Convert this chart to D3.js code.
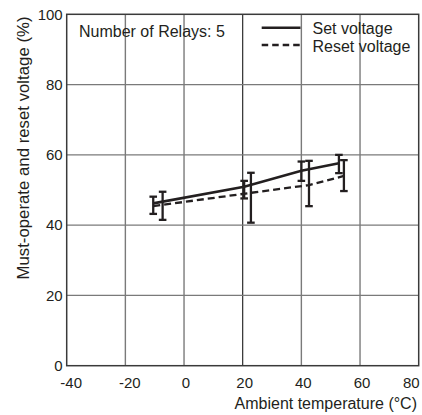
<!DOCTYPE html>
<html>
<head>
<meta charset="utf-8">
<script src="https://cdn.jsdelivr.net/npm/d3@7"></script>
<style>
  html, body { margin: 0; padding: 0; background: #fff; }
  svg { display: block; font-family: "Liberation Sans", Arial, Helvetica, sans-serif; }
</style>
</head>
<body>
<svg id="chart" width="422" height="415"></svg>
<script>
// ---- data ----
const xTicks = [-40, -20, 0, 20, 40, 60, 80];
const yTicks = [0, 20, 40, 60, 80, 100];

// Set voltage (solid line) – line points and error bars
const setTemp = [-10.5, 20.5, 40, 52.8];
const setMean = [46.2, 50.9, 55.5, 57.6];
const setLow  = [43.2, 47.6, 52.6, 54.8];
const setHigh = [48.1, 52.6, 58.1, 60.0];

// Reset voltage (dashed line)
const resetLineTemp = [-10.5, 22.8, 42.6, 54.5];
const resetMean     = [45.4, 49.2, 51.4, 54.0];
const resetBarTemp  = [-7.3, 22.8, 42.6, 54.5];
const resetLow      = [41.5, 40.7, 45.4, 49.7];
const resetHigh     = [49.5, 54.9, 58.3, 58.5];

const annotation = "Number of Relays: 5";
const seriesNames = ["Set voltage", "Reset voltage"];
const xTitle = "Ambient temperature (\u00B0C)";
const yTitle = "Must-operate and reset voltage (%)";

// ---- layout ----
const L = 66.7, R = 418.7, T = 14.3, B = 365.7;
const ink = "#231f20";
const svg = d3.select("#chart");

const x = d3.scaleLinear().domain([-40, 80]).range([L, R]);
const y = d3.scaleLinear().domain([0, 100]).range([B, T]);

// grid
const grid = svg.append("g");
grid.selectAll("line.v").data(xTicks.slice(1, -1)).enter().append("line")
  .attr("x1", d => x(d)).attr("x2", d => x(d))
  .attr("y1", T).attr("y2", B)
  .attr("stroke", d => d === 20 ? "#1a1a1a" : "#7a7a7a")
  .attr("stroke-width", d => d === 20 ? 1.1 : 1.4);
grid.selectAll("line.h").data(yTicks.slice(1, -1)).enter().append("line")
  .attr("x1", L).attr("x2", R)
  .attr("y1", d => y(d)).attr("y2", d => y(d))
  .attr("stroke", "#7a7a7a").attr("stroke-width", 1.4);

// frame
svg.append("rect").attr("x", L).attr("y", T).attr("width", R - L).attr("height", B - T)
  .attr("fill", "none").attr("stroke", "#3a3a3a").attr("stroke-width", 1.5);

// axes
const fmt = d => String(d);
const yAxis = svg.append("g").attr("transform", `translate(${L},0)`)
  .call(d3.axisLeft(y).tickValues(yTicks).tickFormat(fmt).tickSize(0).tickPadding(4));
yAxis.select(".domain").remove();
yAxis.selectAll("text").attr("font-size", 15).attr("fill", ink)
  .attr("font-family", "Liberation Sans, Arial, sans-serif");

const xAxis = svg.append("g").attr("transform", `translate(0,${B})`)
  .call(d3.axisBottom(x).tickValues(xTicks).tickFormat(fmt).tickSize(0).tickPadding(12));
xAxis.select(".domain").remove();
xAxis.selectAll("text").attr("font-size", 15).attr("fill", ink)
  .attr("font-family", "Liberation Sans, Arial, sans-serif")
  .attr("dx", d => d < 0 ? 4 : (d === 80 ? 0 : 1.5))
  .attr("text-anchor", d => d === 80 ? "end" : "middle")
  .attr("x", d => d === 80 ? 0.5 : 0);

// axis titles
svg.append("text").attr("x", 417).attr("y", 409).attr("text-anchor", "end")
  .attr("font-size", 16).attr("fill", ink).text(xTitle);
svg.append("text").attr("transform", "translate(29,148) rotate(-90)")
  .attr("text-anchor", "middle").attr("font-size", 16.8).attr("fill", ink).text(yTitle);

// lines
const setPts = setTemp.map((t, i) => [t, setMean[i]]);
const resetPts = resetLineTemp.map((t, i) => [t, resetMean[i]]);
const line = d3.line().x(d => x(d[0])).y(d => y(d[1]));

// error bars
function errorBars(temps, lows, highs) {
  const g = svg.append("g").attr("stroke", ink).attr("stroke-width", 2.3).attr("fill", "none");
  temps.forEach((t, i) => {
    const cx = x(t), y1 = y(lows[i]), y2 = y(highs[i]);
    g.append("line").attr("x1", cx).attr("x2", cx).attr("y1", y1).attr("y2", y2);
    g.append("line").attr("x1", cx - 3.8).attr("x2", cx + 3.8).attr("y1", y1).attr("y2", y1);
    g.append("line").attr("x1", cx - 3.8).attr("x2", cx + 3.8).attr("y1", y2).attr("y2", y2);
  });
}
errorBars(setTemp, setLow, setHigh);
errorBars(resetBarTemp, resetLow, resetHigh);

svg.append("path").attr("d", line(resetPts)).attr("fill", "none")
  .attr("stroke", ink).attr("stroke-width", 2.3).attr("stroke-dasharray", "7,4");
svg.append("path").attr("d", line(setPts)).attr("fill", "none")
  .attr("stroke", ink).attr("stroke-width", 2.6);

// annotation
svg.append("text").attr("x", 79).attr("y", 36.5).attr("font-size", 16).attr("fill", ink).text(annotation);

// legend
const leg = svg.append("g");
leg.append("line").attr("x1", 261.7).attr("x2", 300.5).attr("y1", 27.8).attr("y2", 27.8)
  .attr("stroke", ink).attr("stroke-width", 2.6);
leg.append("line").attr("x1", 261.7).attr("x2", 300.5).attr("y1", 45).attr("y2", 45)
  .attr("stroke", ink).attr("stroke-width", 2.3).attr("stroke-dasharray", "6.5,4");
leg.append("text").attr("x", 312.5).attr("y", 34).attr("font-size", 16).attr("fill", ink).text(seriesNames[0]);
leg.append("text").attr("x", 312.5).attr("y", 51.5).attr("font-size", 16).attr("fill", ink).text(seriesNames[1]);
</script>
</body>
</html>
